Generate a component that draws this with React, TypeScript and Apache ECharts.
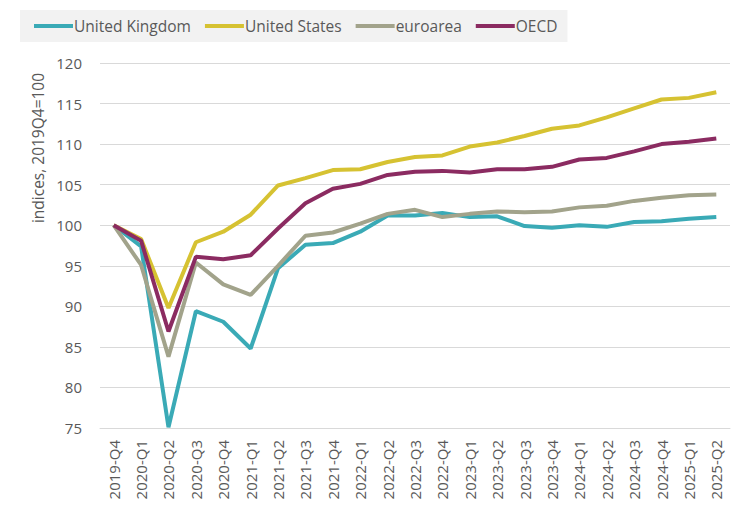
import React, { useEffect, useRef } from "react";
import * as echarts from "echarts";

const quarters = [
  "2019-Q4", "2020-Q1", "2020-Q2", "2020-Q3", "2020-Q4",
  "2021-Q1", "2021-Q2", "2021-Q3", "2021-Q4",
  "2022-Q1", "2022-Q2", "2022-Q3", "2022-Q4",
  "2023-Q1", "2023-Q2", "2023-Q3", "2023-Q4",
  "2024-Q1", "2024-Q2", "2024-Q3", "2024-Q4",
  "2025-Q1", "2025-Q2",
];

const unitedKingdom = [
  100, 97.4, 75.1, 89.4, 88.1, 84.8, 94.7, 97.6, 97.8, 99.2, 101.2, 101.2,
  101.5, 101.0, 101.1, 99.9, 99.7, 100.0, 99.8, 100.4, 100.5, 100.8, 101.0,
];
const unitedStates = [
  100, 98.3, 89.8, 97.9, 99.2, 101.3, 104.9, 105.8, 106.8, 106.9, 107.8, 108.4,
  108.6, 109.7, 110.2, 111.0, 111.9, 112.3, 113.3, 114.4, 115.5, 115.7, 116.4,
];
const euroArea = [
  100, 95.1, 83.8, 95.4, 92.7, 91.4, 95.0, 98.7, 99.1, 100.2, 101.4, 101.9,
  101.0, 101.4, 101.7, 101.6, 101.7, 102.2, 102.4, 103.0, 103.4, 103.7, 103.8,
];
const oecd = [
  100, 98.1, 86.9, 96.1, 95.8, 96.3, 99.6, 102.7, 104.5, 105.1, 106.2, 106.6,
  106.7, 106.5, 106.9, 106.9, 107.2, 108.1, 108.3, 109.1, 110.0, 110.3, 110.7,
];

const seriesNames = ["United Kingdom", "United States", "euroarea", "OECD"];
const seriesColors = ["#3AAAB6", "#D6C232", "#A2A38B", "#8B2B61"];
const seriesValues = [unitedKingdom, unitedStates, euroArea, oecd];

const yTicks = { min: 75, max: 120, interval: 5 };
const yAxisTitle = "indices, 2019Q4=100";

const FONT = "'Open Sans', 'Noto Sans', sans-serif";
const TEXT_COLOR = "#595959";

export default function App() {
  const ref = useRef<HTMLDivElement>(null);

  useEffect(() => {
    if (!ref.current) return;
    const chart = echarts.init(ref.current, undefined, { renderer: "svg" });
    chart.setOption({
      animation: false,
      backgroundColor: "#ffffff",
      textStyle: { fontFamily: FONT },
      legend: {
        left: 20,
        top: 10,
        padding: [8, 10, 8, 14],
        backgroundColor: "#F2F2F2",
        itemWidth: 39,
        itemHeight: 4,
        itemGap: 14,
        icon: "rect",
        data: seriesNames,
        textStyle: {
          fontFamily: FONT,
          fontSize: 15.5,
          color: TEXT_COLOR,
          padding: [0, 0, 0, -4],
        },
      },
      grid: { left: 100, right: 20, top: 63, bottom: 87 },
      xAxis: {
        type: "category",
        data: quarters,
        boundaryGap: true,
        axisLine: { show: true, lineStyle: { color: "#D9D9D9", width: 1 } },
        axisTick: { show: false },
        axisLabel: {
          rotate: 90,
          interval: 0,
          margin: 12,
          fontSize: 15,
          color: TEXT_COLOR,
          fontFamily: FONT,
        },
      },
      yAxis: {
        type: "value",
        min: yTicks.min,
        max: yTicks.max,
        interval: yTicks.interval,
        axisLine: { show: false },
        axisTick: { show: false },
        splitLine: { lineStyle: { color: "#D9D9D9", width: 1 } },
        axisLabel: {
          fontSize: 15,
          color: TEXT_COLOR,
          margin: 18,
          fontFamily: FONT,
        },
      },
      graphic: [
        {
          type: "text",
          x: 38,
          y: 148,
          rotation: Math.PI / 2,
          style: {
            text: yAxisTitle,
            fontSize: 15.5,
            fontFamily: FONT,
            fill: TEXT_COLOR,
            align: "center",
            verticalAlign: "middle",
          },
        },
      ],
      series: seriesNames.map((name, i) => ({
        name,
        type: "line",
        data: seriesValues[i],
        color: seriesColors[i],
        showSymbol: false,
        symbol: "none",
        lineStyle: { width: 4, color: seriesColors[i] },
      })),
    });
    return () => chart.dispose();
  }, []);

  return (
    <div
      ref={ref}
      style={{ position: "absolute", left: 0, top: 0, width: 750, height: 515 }}
    />
  );
}
